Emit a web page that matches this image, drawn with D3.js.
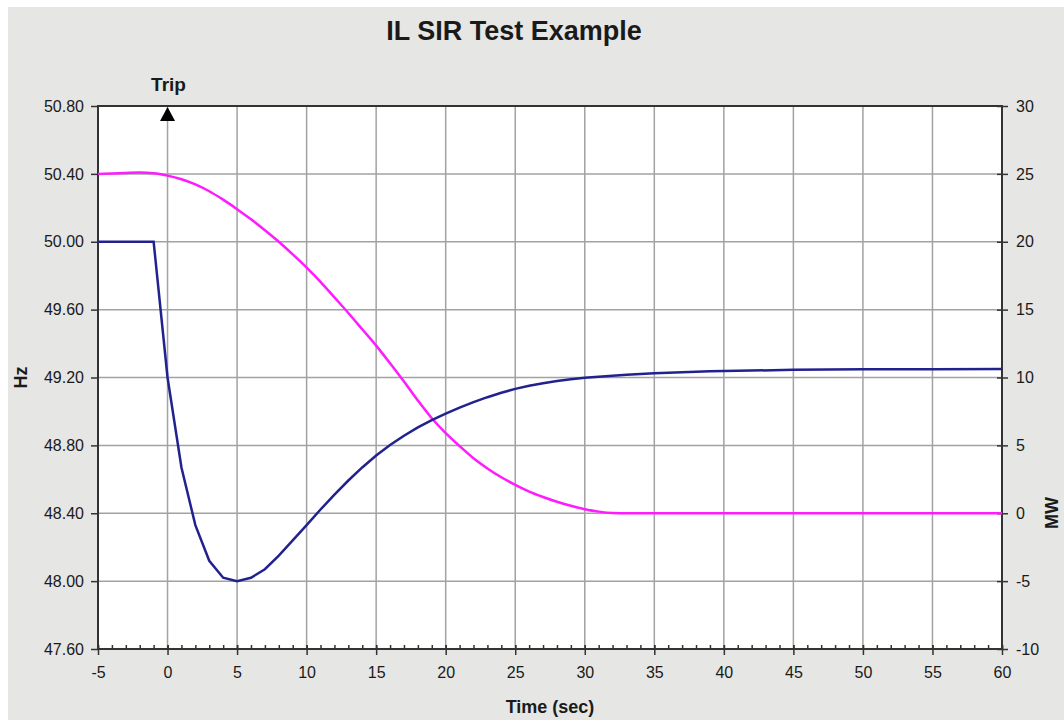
<!DOCTYPE html>
<meta charset="utf-8">
<head>
<style>
  body { margin: 0; background: #fff; }
  text { font-family: "Liberation Sans", Arial, sans-serif; fill: #1a1a1a; }
  .grid line { stroke: #a2a2a2; stroke-width: 1.5px; }
  .frame { fill: none; stroke: #333; stroke-width: 2px; }
</style>
</head>
<body>
<div id="content"></div>
<script src="https://d3js.org/d3.v7.min.js"></script>
<script type="text/javascript">

// frequency (Hz, left axis) - blue trace
var freqTime = [-5,-4,-3,-2,-1,0,1,2,3,4,5,6,7,8,9,10,11,12,13,14,15,16,17,18,19,20,
  21,22,23,24,25,26,27,28,29,30,31,32,33,34,35,36,37,38,39,40,45,50,55,60];
var freqHz = [50,50,50,50,50,49.20,48.67,48.33,48.12,48.02,48.00,48.02,48.07,48.15,48.24,48.33,
  48.422,48.51,48.593,48.67,48.74,48.802,48.857,48.906,48.949,48.987,49.023,49.055,49.084,49.11,
  49.133,49.1515,49.1665,49.179,49.1895,49.198,49.205,49.211,49.216,49.2205,49.2245,49.228,
  49.231,49.2337,49.2361,49.2382,49.245,49.248,49.249,49.25];

// interruptible load (MW, right axis) - magenta trace
var mwTime = [-5,-4,-3,-2,-1,0,1,2,3,4,5,6,7,8,9,10,11,12,13,14,15,16,17,18,19,20,
  21,22,23,24,25,26,27,28,29,30,31,32,33,34,40,45,50,55,60];
var mwVal = [25.0,25.03,25.07,25.1,25.05,24.87,24.6,24.22,23.72,23.1,22.4,21.65,20.85,20.0,19.07,18.1,
  17.05,15.9,14.75,13.55,12.35,11.05,9.7,8.3,7.0,5.9,4.95,4.05,3.3,2.65,2.1,1.6,1.2,0.85,0.55,
  0.3,0.12,0.02,0,0,0,0,0,0,0];

var xTicks = [-5,0,5,10,15,20,25,30,35,40,45,50,55,60];
var hzTicks = [47.6,48.0,48.4,48.8,49.2,49.6,50.0,50.4,50.8];
var mwTicks = [-10,-5,0,5,10,15,20,25,30];
var tripTime = 0;

var W = 1064, H = 720;
var margin = {top: 106, right: 62, bottom: 71, left: 98};

var svg = d3.select("#content").append("svg")
  .attr("width", W).attr("height", H);

svg.append("rect").attr("x", 8).attr("y", 7).attr("width", W - 8).attr("height", H - 7)
  .attr("fill", "#e6e6e4");

var x = d3.scaleLinear().domain([-5, 60]).range([margin.left, W - margin.right]);
var yHz = d3.scaleLinear().domain([47.6, 50.8]).range([H - margin.bottom, margin.top]);
var yMw = d3.scaleLinear().domain([-10, 30]).range([H - margin.bottom, margin.top]);

var x0 = x.range()[0], x1 = x.range()[1], y0 = yHz.range()[0], y1 = yHz.range()[1];

svg.append("rect").attr("x", x0).attr("y", y1).attr("width", x1 - x0).attr("height", y0 - y1)
  .attr("fill", "#fff");

// grid
var grid = svg.append("g").attr("class", "grid");
grid.selectAll(".v").data(xTicks.slice(1, -1)).enter().append("line")
  .attr("x1", d => x(d)).attr("x2", d => x(d)).attr("y1", y1).attr("y2", y0);
grid.selectAll(".h").data(hzTicks.slice(1, -1)).enter().append("line")
  .attr("x1", x0).attr("x2", x1).attr("y1", d => yHz(d)).attr("y2", d => yHz(d));

// axes
var plain = function(d) { return String(d); };
var xAxis = svg.append("g").attr("transform", "translate(0," + y0 + ")")
  .call(d3.axisBottom(x).tickValues(xTicks).tickSize(6).tickPadding(12).tickFormat(plain));
var xMinor = svg.append("g").attr("transform", "translate(0," + y0 + ")")
  .call(d3.axisTop(x).tickValues(d3.range(-5, 61, 1)).tickSize(4).tickFormat(""));
var xMajorUp = svg.append("g").attr("transform", "translate(0," + y0 + ")")
  .call(d3.axisTop(x).tickValues(xTicks).tickSize(4).tickFormat(""));

var yLeft = svg.append("g").attr("transform", "translate(" + x0 + ",0)")
  .call(d3.axisLeft(yHz).tickValues(hzTicks).tickSize(7).tickPadding(7).tickFormat(d3.format(".2f")));
var yRight = svg.append("g").attr("transform", "translate(" + x1 + ",0)")
  .call(d3.axisRight(yMw).tickValues(mwTicks).tickSize(6).tickPadding(8).tickFormat(plain));
var yRightIn = svg.append("g").attr("transform", "translate(" + x1 + ",0)")
  .call(d3.axisLeft(yMw).tickValues(mwTicks).tickSize(5).tickFormat(""));

[xAxis, xMinor, xMajorUp, yLeft, yRight, yRightIn].forEach(function(g) {
  g.select(".domain").remove();
  g.selectAll(".tick line").attr("stroke", "#333").attr("stroke-width", 1.5);
  g.selectAll(".tick text").attr("fill", "#1a1a1a").style("font-size", "16px")
    .style("font-family", "'Liberation Sans', Arial, sans-serif");
});

svg.append("rect").attr("class", "frame")
  .attr("x", x0).attr("y", y1).attr("width", x1 - x0).attr("height", y0 - y1);

// traces
var hzLine = d3.line().x((d, i) => x(freqTime[i])).y(d => yHz(d));
var mwLine = d3.line().x((d, i) => x(mwTime[i])).y(d => yMw(d)).curve(d3.curveMonotoneX);

svg.append("path").datum(mwVal).attr("d", mwLine)
  .attr("fill", "none").attr("stroke", "#ff1aff").attr("stroke-width", 2.5);
svg.append("path").datum(freqHz).attr("d", hzLine)
  .attr("fill", "none").attr("stroke", "#22228f").attr("stroke-width", 2.5);

// trip marker
var tx = x(tripTime);
svg.append("path")
  .attr("d", "M" + tx + "," + (y1 + 1) + "L" + (tx - 7.5) + "," + (y1 + 15) + "L" + (tx + 7.5) + "," + (y1 + 15) + "Z")
  .attr("fill", "#000");
svg.append("text").attr("x", tx + 1).attr("y", 91).attr("text-anchor", "middle")
  .style("font-size", "19px").style("font-weight", "bold").text("Trip");

// titles
svg.append("text").attr("x", 514).attr("y", 40).attr("text-anchor", "middle")
  .style("font-size", "27px").style("font-weight", "bold").text("IL SIR Test Example");
svg.append("text").attr("x", (x0 + x1) / 2).attr("y", 713).attr("text-anchor", "middle")
  .style("font-size", "18px").style("font-weight", "bold").text("Time (sec)");
svg.append("text").attr("transform", "translate(27," + ((y0 + y1) / 2) + ") rotate(-90)")
  .attr("text-anchor", "middle").style("font-size", "18px").style("font-weight", "bold").text("Hz");
svg.append("text").attr("transform", "translate(1058,513) rotate(-90)")
  .attr("text-anchor", "middle").style("font-size", "18px").style("font-weight", "bold").text("MW");

</script>
</body>
</html>
